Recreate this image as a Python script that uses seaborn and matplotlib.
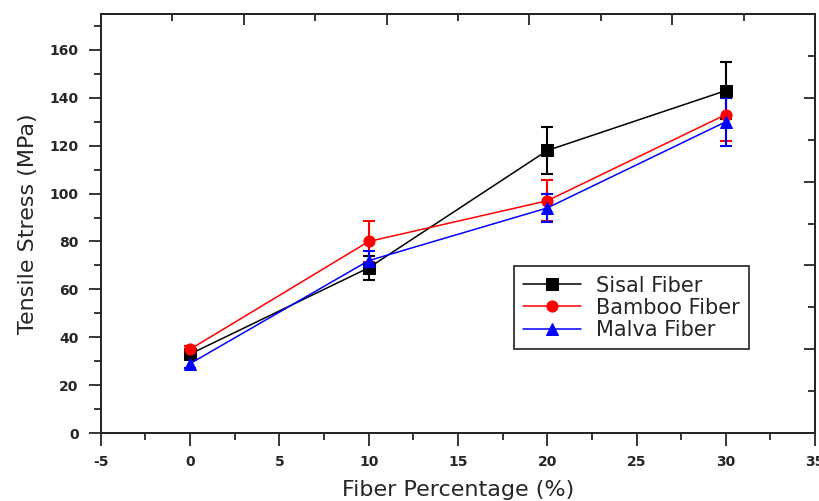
import matplotlib
matplotlib.use("Agg")
import matplotlib.pyplot as plt
import seaborn as sns
import numpy as np
import pandas as pd
from matplotlib.ticker import MultipleLocator

# Daten
fiber_pct = [0, 10, 20, 30]
sisal = [33, 69, 118, 143]
sisal_err = [2, 5, 10, 12]
bamboo = [35, 80, 97, 133]
bamboo_err = [1.5, 8.5, 8.5, 11]
malva = [29, 72, 94, 130]
malva_err = [2, 4, 6, 10]

series = ["Sisal Fiber", "Bamboo Fiber", "Malva Fiber"]
colors = ["black", "red", "blue"]
markers = ["s", "o", "^"]

df = pd.DataFrame({
    "pct": fiber_pct * 3,
    "stress": sisal + bamboo + malva,
    "err": sisal_err + bamboo_err + malva_err,
    "fiber": [s for s in series for _ in fiber_pct],
})

sns.set_style("ticks")
plt.rcParams["font.family"] = ["DejaVu Sans"]
plt.rcParams["axes.unicode_minus"] = False

fig = plt.figure(figsize=(8.2, 5.01), dpi=100)
ax = fig.add_axes([0.123, 0.1357, 0.871, 0.8363])

for name, col, mk in zip(series, colors, markers):
    sub = df[df["fiber"] == name]
    ax.errorbar(sub["pct"], sub["stress"], yerr=sub["err"], fmt="none",
                ecolor=col, elinewidth=1.5, capsize=4, capthick=1.5, zorder=2)
    sns.lineplot(data=sub, x="pct", y="stress", ax=ax, color=col, marker=mk,
                 markersize=8, markeredgecolor=col, linewidth=1.1,
                 label=name, zorder=3)

ax.set_xlim(-5, 35)
ax.set_ylim(0, 175)
ax.xaxis.set_major_locator(MultipleLocator(5))
ax.xaxis.set_minor_locator(MultipleLocator(2.5))
ax.yaxis.set_minor_locator(MultipleLocator(10))
ax.set_yticks(np.arange(0, 161, 20))
ax.tick_params(which="major", length=9, width=1.3, direction="out",
               labelsize=10, pad=7)
ax.tick_params(which="minor", length=5, width=1.3, direction="out")
for lab in ax.get_xticklabels() + ax.get_yticklabels():
    lab.set_fontweight("bold")

for sp in ax.spines.values():
    sp.set_visible(True)
    sp.set_linewidth(1.4)
    sp.set_color("black")

# Obere und rechte Achse mit eigenen Ticks (nach innen)
axt = ax.twiny()
axt.set_xlim(0, 1)
axt.xaxis.set_major_locator(MultipleLocator(0.2))
axt.xaxis.set_minor_locator(MultipleLocator(0.1))
axt.tick_params(which="major", direction="in", length=8, width=1.3, labeltop=False)
axt.tick_params(which="minor", direction="in", length=5, width=1.3)
axr = ax.twinx()
axr.set_ylim(0, 1)
axr.yaxis.set_major_locator(MultipleLocator(0.2))
axr.yaxis.set_minor_locator(MultipleLocator(0.1))
axr.tick_params(which="major", direction="in", length=8, width=1.3, labelright=False)
axr.tick_params(which="minor", direction="in", length=5, width=1.3)
for a in (axt, axr):
    for sp in a.spines.values():
        sp.set_linewidth(1.4)

ax.set_xlabel("Fiber Percentage (%)", fontsize=16, labelpad=8)
ax.set_ylabel("Tensile Stress (MPa)", fontsize=16, labelpad=8)

leg = ax.legend(loc="lower left", bbox_to_anchor=(0.578, 0.2),
                borderaxespad=0, fontsize=15,
                frameon=True, fancybox=False, edgecolor="black",
                handlelength=2.8, borderpad=0.45, labelspacing=0.1,
                handletextpad=0.7)
leg.get_frame().set_linewidth(1.3)

fig.savefig("out.png", dpi=100)
